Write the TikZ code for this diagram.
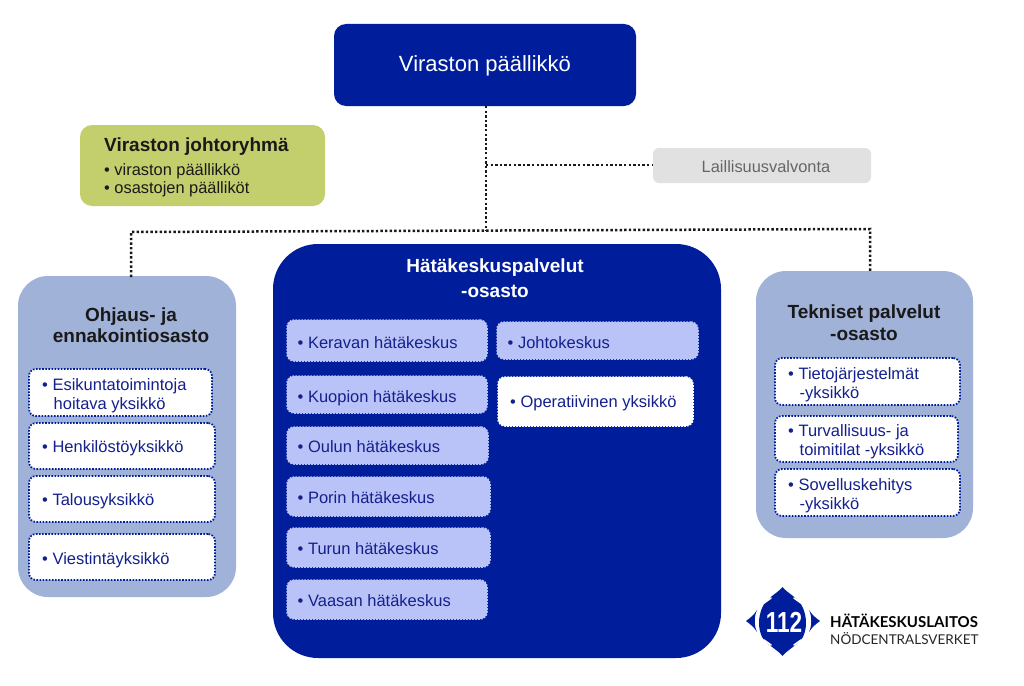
\documentclass[tikz,border=0pt]{standalone}
\usepackage{fontspec}
\setmainfont{Liberation Sans}
\newfontfamily\logofont{Lato}
\usetikzlibrary{calc}
\definecolor{navy}{HTML}{001E9C}
\definecolor{deptblue}{HTML}{A0B2D8}
\definecolor{paleunit}{HTML}{BAC3F8}
\definecolor{unittext}{HTML}{14208C}
\definecolor{olive}{HTML}{C3CF6C}
\definecolor{lgrey}{HTML}{E1E1E1}
\definecolor{dgrey}{HTML}{666666}
\newcommand{\hng}{\hspace*{11.5pt}}
\tikzset{
  x=1pt,y=-1pt,
  boxbase/.style={anchor=north west,inner sep=0pt,outer sep=0pt,rounded corners=#1},
  boxbase/.default=12pt,
  link/.style={line width=2.5pt,black!90,dash pattern=on 2.4pt off 2.2pt},
  dept/.style={boxbase=30pt,fill=deptblue},
  whiteunit/.style={boxbase=7pt,fill=white,draw=navy,line width=1.8pt,dash pattern=on 1.6pt off 1.5pt},
  paleu/.style={boxbase=7pt,fill=paleunit,draw=paleunit,line width=1.5pt,dash pattern=on 1.6pt off 1.4pt},
  depttitle/.style={font=\bfseries\fontsize{19}{21.5}\selectfont,text=black!90,align=center,inner sep=0pt},
}
\newcommand{\ubox}[8]{% style,name,x1,y1,x2,y2,text offset,text
  \pgfmathsetmacro{\boxw}{#5-#3}\pgfmathsetmacro{\boxh}{#6-#4}
  \node[#1,minimum width=\boxw pt,minimum height=\boxh pt] (#2) at (#3,#4) {};
  \node[inner sep=0pt,anchor=west,align=left,font=\fontsize{16.5}{19}\selectfont,text=unittext] (#2t) at ($(#2.west)+#7$) {#8};
}
\begin{document}
\begin{tikzpicture}
\useasboundingbox (0,0) rectangle (1024,685);
\fill[white] (0,0) rectangle (1024,685);

% departments
\node[dept,minimum width=218pt,minimum height=321pt] (left) at (18,276) {};
\node[boxbase=45pt,fill=navy,minimum width=448pt,minimum height=414pt] (centre) at (273,244) {};
\node[dept,minimum width=217pt,minimum height=267pt] (right) at (756,271) {};

% top boxes
\node[boxbase=12pt,fill=navy,minimum width=302pt,minimum height=82pt] (chief) at (334,24) {};
\node[inner sep=0pt,text=white,font=\fontsize{22}{26}\selectfont] (chieft) at (485,65.5) {Viraston päällikkö};
\node[boxbase=12pt,fill=olive,minimum width=245pt,minimum height=81pt] (group) at (80,125) {};
\node[inner sep=0pt,anchor=north west,align=left,font=\fontsize{16.4}{18.5}\selectfont,text=black!90] (groupt) at (104,138)
  {{\bfseries\fontsize{19}{18.5}\selectfont Viraston johtoryhmä}\\[5pt]• viraston päällikkö\\• osastojen päälliköt};
\node[boxbase=6pt,fill=lgrey,minimum width=218pt,minimum height=35pt] (legal) at (653,148) {};
\node[inner sep=0pt,text=dgrey,font=\fontsize{16.4}{18}\selectfont] (legalt) at (766,167) {Laillisuusvalvonta};

% connectors
\coordinate (hub) at (486,165);
\coordinate (bus) at (486,231);
\coordinate (chieftop) at (chief.south -| hub);
\coordinate (busL) at ($(left.north west)+(113,-44)$);
\coordinate (busR) at ($(right.north west)+(114,-42)$);
\coordinate (dropL) at ($(left.north west)+(113,1)$);
\coordinate (dropR) at ($(right.north west)+(114,1)$);
\draw[link] (chieftop) -- (bus);
\draw[link] (hub) -- (legal.west |- hub);
\draw[link] (dropL) -- (busL) -- (busR) -- (dropR);

% titles
\node[depttitle] (ltitle) at (131,325) {Ohjaus- ja\\ennakointiosasto};
\node[depttitle,text=white,font=\bfseries\fontsize{19}{25}\selectfont] (ctitle) at (495,278.5) {Hätäkeskuspalvelut\\-osasto};
\node[depttitle] (rtitle) at (864,322.5) {Tekniset palvelut\\-osasto};

% left units
\ubox{whiteunit}{e1}{29}{369}{212}{416}{(13,3)}{• Esikuntatoimintoja\\\hng hoitava yksikkö}
\ubox{whiteunit}{e2}{29}{423}{215}{469}{(13,2)}{• Henkilöstöyksikkö}
\ubox{whiteunit}{e3}{29}{476}{215}{522}{(13,2)}{• Talousyksikkö}
\ubox{whiteunit}{e4}{29}{534}{215}{580}{(13,3)}{• Viestintäyksikkö}

% centre units
\ubox{paleu}{c1}{287}{320}{487}{361}{(10.5,2)}{• Keravan hätäkeskus}
\ubox{paleu}{c2}{287}{376}{487}{413}{(10.5,3.5)}{• Kuopion hätäkeskus}
\ubox{paleu}{c3}{287}{427}{488}{464}{(10.5,1)}{• Oulun hätäkeskus}
\ubox{paleu}{c4}{287}{477}{490}{516}{(10.5,1.5)}{• Porin hätäkeskus}
\ubox{paleu}{c5}{287}{528}{490}{567}{(10.5,1)}{• Turun hätäkeskus}
\ubox{paleu}{c6}{287}{580}{487}{619}{(10.5,1.5)}{• Vaasan hätäkeskus}
\ubox{paleu}{c7}{497}{322}{698}{359}{(10.5,2)}{• Johtokeskus}
\ubox{boxbase=7pt,fill=white,draw=white,line width=1.5pt,dash pattern=on 1.6pt off 1.4pt}{c8}{498}{377}{693}{426}{(12,2)}{• Operatiivinen yksikkö}

% right units
\ubox{whiteunit}{r1}{775}{358}{960}{405}{(13,3)}{• Tietojärjestelmät\\\hng-yksikkö}
\ubox{whiteunit}{r2}{775}{416}{958}{462}{(13,3)}{• Turvallisuus- ja\\\hng toimitilat -yksikkö}
\ubox{whiteunit}{r3}{775}{469}{960}{516}{(13,3)}{• Sovelluskehitys\\\hng-yksikkö}

% logo
\fill[navy] (782.5,587) .. controls (787,593) and (799,598) .. (803,608) .. controls (807,618) and (807,628) .. (803,637)
  .. controls (798,645) and (787,650) .. (782.5,656) .. controls (778,650) and (767,645) .. (762,637)
  .. controls (758,628) and (758,618) .. (762,608) .. controls (766,598) and (778,593) .. (782.5,587) -- cycle;
\fill[navy] (757,610) .. controls (754,615) and (750,618) .. (746,621) .. controls (750,624) and (754,627) .. (757,632) .. controls (754,626) and (754,616) .. (757,610) -- cycle;
\fill[navy] (809,610) .. controls (812,615) and (816,618) .. (820,621) .. controls (816,624) and (812,627) .. (809,632) .. controls (812,626) and (812,616) .. (809,610) -- cycle;
\foreach \a/\b/\c/\d in {764/603/771/598, 801/603/794/598, 764/640/771/645, 801/640/794/645}{
  \draw[white,line width=1.6pt,line cap=round] (\a,\b) -- (\c,\d);
}
\node[inner sep=0pt,text=white,font=\bfseries\fontsize{29}{29}\selectfont] (logonum) at (784,622) {\scalebox{0.78}[1]{112}};
\node[inner sep=0pt,anchor=base west,font=\logofont\bfseries\fontsize{15}{18}\selectfont,text=black] (logoa) at (830,627) {HÄTÄKESKUSLAITOS};
\node[inner sep=0pt,anchor=base west,font=\logofont\fontsize{13.5}{16}\selectfont,text=black!85] (logob) at (830,644) {NÖDCENTRALSVERKET};
\end{tikzpicture}
\end{document}
